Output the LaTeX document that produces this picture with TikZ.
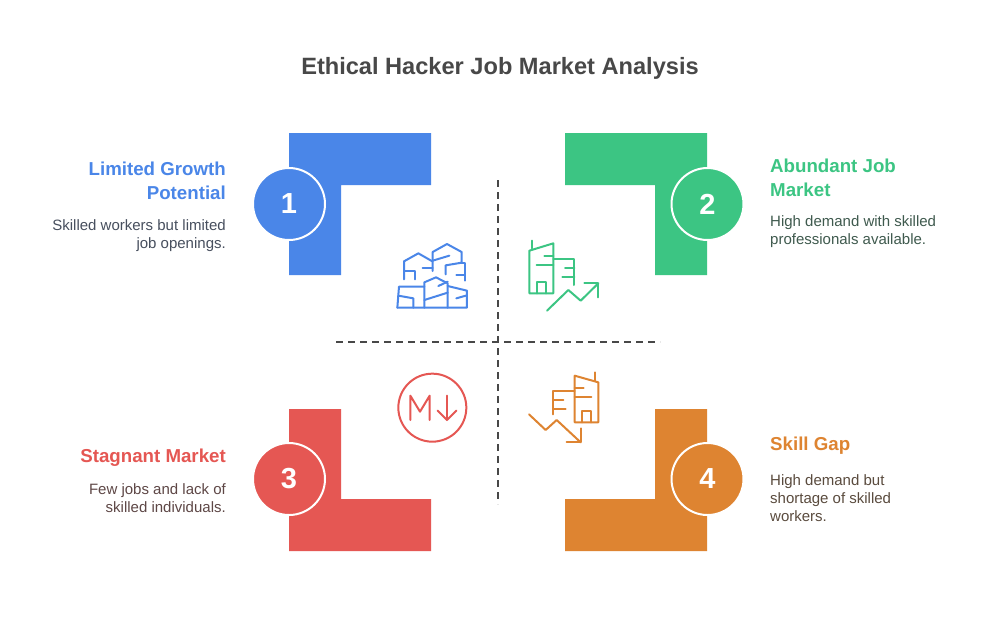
\documentclass[tikz,border=0pt]{standalone}
\usepackage{fontspec}
\setmainfont{Liberation Sans}
\definecolor{cblue}{HTML}{4A86E8}
\definecolor{cgreen}{HTML}{3CC583}
\definecolor{cred}{HTML}{E55753}
\definecolor{corange}{HTML}{DE8431}
\definecolor{ctitle}{HTML}{484848}
\definecolor{bblue}{HTML}{474F5E}
\definecolor{bgreen}{HTML}{3F5A4E}
\definecolor{bred}{HTML}{5E4746}
\definecolor{borange}{HTML}{5A4B3E}
\tikzset{
 numdisc/.style={circle,minimum size=72pt,inner sep=0pt,draw=white,line width=2pt,text=white,font=\fontsize{29}{29}\selectfont\bfseries},
 headl/.style={anchor=east,align=right,font=\fontsize{18.7}{24}\selectfont\bfseries,inner sep=0pt},
 headr/.style={anchor=west,align=left,font=\fontsize{18.7}{24}\selectfont\bfseries,inner sep=0pt},
 bodyl/.style={anchor=east,align=right,font=\fontsize{15}{18}\selectfont,inner sep=0pt},
 bodyr/.style={anchor=west,align=left,font=\fontsize{15}{18}\selectfont,inner sep=0pt},
 divider/.style={draw=ctitle,line width=1.7pt,dash pattern=on 6.5pt off 5.5pt},
 glyph/.style={line width=2pt,line cap=round,line join=round}
}
\begin{document}
\begin{tikzpicture}[x=1pt,y=-1pt]
\useasboundingbox (0,0) rectangle (1000,625);
\fill[white] (0,0) rectangle (1000,625);
\node[font=\fontsize{23.6}{28}\selectfont\bfseries,text=ctitle] (title) at (500,68) {Ethical Hacker Job Market Analysis};
% brackets
\fill[cblue] (289,133) -- (431,133) -- (431,185) -- (341,185) -- (341,275) -- (289,275) -- cycle;
\fill[cgreen] (565,133) -- (707,133) -- (707,275) -- (655,275) -- (655,185) -- (565,185) -- cycle;
\fill[cred] (289,409) -- (341,409) -- (341,499) -- (431,499) -- (431,551) -- (289,551) -- cycle;
\fill[corange] (655,409) -- (707,409) -- (707,551) -- (565,551) -- (565,499) -- (655,499) -- cycle;
% dividers
\coordinate (vt) at (498,180); \coordinate (vb) at (498,504);
\coordinate (hl) at (336,342); \coordinate (hr) at (660,342);
\draw[divider] (vt) -- (vb);
\draw[divider] (hl) -- (hr);
% discs
\node[numdisc,fill=cblue] (n1) at (289,204) {1};
\node[numdisc,fill=cgreen] (n2) at (707.5,204) {2};
\node[numdisc,fill=cred] (n3) at (289,479) {3};
\node[numdisc,fill=corange] (n4) at (707.5,479) {4};
% texts
\node[headl,text=cblue] (h1) at (226,181) {Limited Growth\\Potential};
\node[bodyl,text=bblue] (b1) at (226,235.5) {Skilled workers but limited\\job openings.};
\node[headr,text=cgreen] (h2) at (770,178) {Abundant Job\\Market};
\node[bodyr,text=bgreen] (b2) at (770,232) {High demand with skilled\\professionals available.};
\node[headl,text=cred] (h3) at (226,458) {Stagnant Market};
\node[bodyl,text=bred] (b3) at (226,498) {Few jobs and lack of\\skilled individuals.};
\node[headr,text=corange] (h4) at (770,446) {Skill Gap};
\node[bodyr,text=borange] (b4) at (770,498) {High demand but\\shortage of skilled\\workers.};
% icon 1
\begin{scope}[shift={(385,230)},x=0.3333pt,y=-0.3333pt,glyph,draw=cblue]
\draw (57,148) -- (57,94) -- (100,70) -- (142,94);
\draw (57,123) -- (90,123) -- (90,148);
\draw (113,113) -- (143,113);
\draw (143,123) -- (143,66) -- (186,42) -- (230,66) -- (230,98) -- (182,106) -- (182,133);
\draw (143,92) -- (193,77);
\draw (230,98) -- (240,98) -- (240,152);
\draw (214,135) -- (240,135);
\draw (37,233) -- (246,233) -- (246,182) -- (188,168);
\draw (37,233) -- (42,170) -- (118,170);
\draw (40,197) -- (85,205) -- (85,233);
\draw (118,233) -- (118,157) -- (153,142) -- (188,160) -- (188,233);
\draw (118,210) -- (188,188);
\draw (160,168) -- (188,155);
\draw (214,205) -- (246,196);
\end{scope}
% icon 2
\begin{scope}[shift={(515,230)},x=0.3333pt,y=-0.3333pt,glyph,draw=cgreen]
\draw (52,32) -- (52,55);
\draw (43,62) -- (115,40) -- (115,190) -- (43,190) -- cycle;
\draw (65,190) -- (65,155) -- (93,155) -- (93,190);
\draw (88,78) -- (115,78);
\draw (65,105) -- (115,105);
\draw (115,88) -- (178,88) -- (178,165);
\draw (150,115) -- (178,115);
\draw (142,142) -- (178,142);
\draw (96,242) -- (160,180) -- (197,212) -- (250,160);
\draw (208,159) -- (250,159) -- (250,202);
\end{scope}
% icon 3
\begin{scope}[shift={(385,365)},x=0.3333pt,y=-0.3333pt,glyph,draw=cred]
\draw (142,128) circle[radius=34pt];
\draw (76,165) -- (76,92) -- (105,140) -- (134,92) -- (134,165);
\draw (186,92) -- (186,165);
\draw (158,137) -- (186,165) -- (214,137);
\end{scope}
% icon 4
\begin{scope}[shift={(515,365)},x=0.3333pt,y=-0.3333pt,glyph,draw=corange]
\draw (179,32) -- (250,52) -- (250,172) -- (179,172) -- cycle;
\draw (240,22) -- (240,48);
\draw (200,172) -- (200,138) -- (229,138) -- (229,172);
\draw (179,70) -- (206,70);
\draw (179,97) -- (229,97);
\draw (179,78) -- (115,78) -- (115,148);
\draw (115,105) -- (145,105);
\draw (115,132) -- (152,132);
\draw (42,148) -- (92,195) -- (125,165) -- (197,232);
\draw (197,190) -- (197,232) -- (155,232);
\end{scope}
\end{tikzpicture}
\end{document}
